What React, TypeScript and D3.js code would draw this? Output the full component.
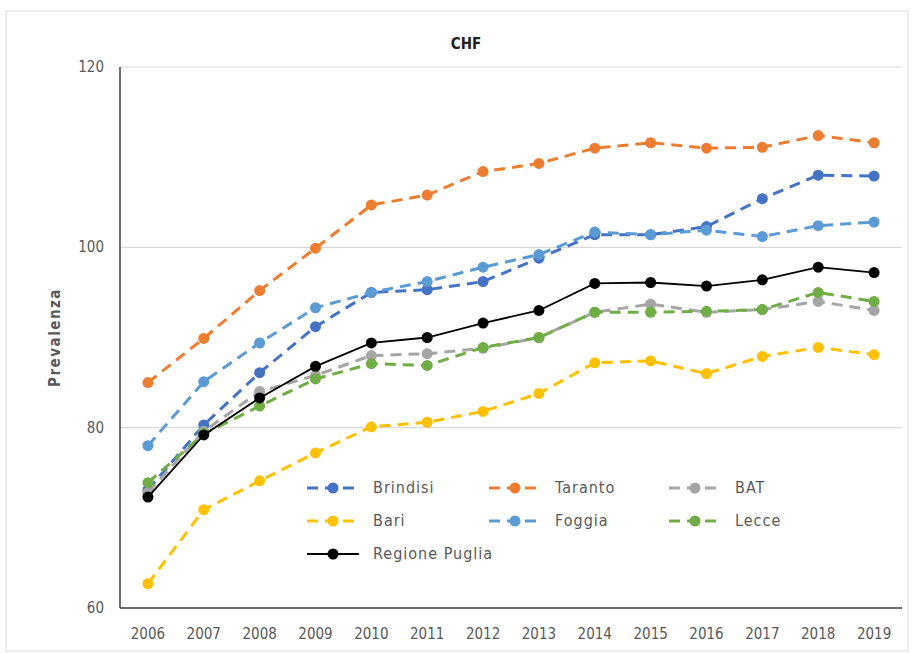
import React from "react";
import * as d3 from "d3";

const years = ["2006","2007","2008","2009","2010","2011","2012","2013","2014","2015","2016","2017","2018","2019"];
const brindisi = [73.1, 80.3, 86.1, 91.2, 95.0, 95.3, 96.2, 98.8, 101.4, 101.4, 102.3, 105.4, 108.0, 107.9];
const taranto = [85.0, 89.9, 95.2, 99.9, 104.7, 105.8, 108.4, 109.3, 111.0, 111.6, 111.0, 111.1, 112.4, 111.6];
const bat = [72.8, 79.6, 84.0, 85.8, 88.0, 88.2, 88.8, 90.0, 92.8, 93.7, 92.8, 93.1, 94.0, 93.0];
const bari = [62.7, 70.9, 74.1, 77.2, 80.1, 80.6, 81.8, 83.8, 87.2, 87.4, 86.0, 87.9, 88.9, 88.1];
const foggia = [78.0, 85.1, 89.4, 93.3, 95.0, 96.2, 97.8, 99.2, 101.7, 101.4, 101.9, 101.2, 102.4, 102.8];
const lecce = [73.9, 79.3, 82.4, 85.4, 87.1, 86.9, 88.9, 90.0, 92.8, 92.8, 92.9, 93.1, 95.0, 94.0];
const puglia = [72.3, 79.2, 83.3, 86.8, 89.4, 90.0, 91.6, 93.0, 96.0, 96.1, 95.7, 96.4, 97.8, 97.2];
const yTicks = [60, 80, 100, 120];

const series = [
  { name: "Brindisi", values: brindisi, color: "#4472C4", dashed: true },
  { name: "Taranto", values: taranto, color: "#ED7D31", dashed: true },
  { name: "BAT", values: bat, color: "#A5A5A5", dashed: true },
  { name: "Bari", values: bari, color: "#FFC000", dashed: true },
  { name: "Foggia", values: foggia, color: "#5B9BD5", dashed: true },
  { name: "Lecce", values: lecce, color: "#70AD47", dashed: true },
  { name: "Regione Puglia", values: puglia, color: "#000000", dashed: false },
];

const FONT = "'DejaVu Sans Condensed', 'Open Sans', sans-serif";

export default function App() {
  const W = 912, H = 653;
  const left = 120, right = 902, top = 67, bottom = 608;
  const x = d3.scaleBand().domain(years).range([left, right]);
  const y = d3.scaleLinear().domain([60, 120]).range([bottom, top]);
  const cx = (yr: string) => (x(yr) as number) + x.bandwidth() / 2;
  const line = d3.line<number>().x((_, i) => cx(years[i])).y((v) => y(v));

  const legendCols = [373, 555, 735];
  const legendRows = [488, 521, 554];

  return (
    <svg width={W} height={H} style={{ position: "absolute", left: 0, top: 0, background: "#fff" }}>
      <rect x={6} y={11} width={902} height={640} fill="#fff" stroke="#d9d9d9" />
      <text x={466} y={49} textAnchor="middle" fontFamily={FONT} fontWeight="bold" fontSize={15} fill="#222">CHF</text>
      {yTicks.filter((t) => t !== 60).map((t) => (
        <line key={t} x1={left} x2={right} y1={y(t)} y2={y(t)} stroke="#d9d9d9" strokeWidth={1.2} />
      ))}
      <line x1={left} x2={left} y1={top} y2={bottom} stroke="#404040" strokeWidth={1.5} />
      <line x1={left} x2={right} y1={bottom} y2={bottom} stroke="#404040" strokeWidth={1.5} />
      {yTicks.map((t) => (
        <text key={t} x={104} y={y(t) + 5} textAnchor="end" fontFamily={FONT} fontSize={15} fill="#595959">{t}</text>
      ))}
      {years.map((yr) => (
        <text key={yr} x={cx(yr)} y={639} textAnchor="middle" fontFamily={FONT} fontSize={15} fill="#595959">{yr}</text>
      ))}
      <text transform={`translate(60, ${(top + bottom) / 2}) rotate(-90)`} textAnchor="middle" fontFamily={FONT} fontWeight="bold" fontSize={15} fill="#595959" letterSpacing={1.5}>Prevalenza</text>
      {series.map((s) => (
        <g key={s.name}>
          <path d={line(s.values) || ""} fill="none" stroke={s.color} strokeWidth={s.dashed ? 3 : 1.8} strokeDasharray={s.dashed ? "11,7" : undefined} />
          {s.values.map((v, i) => (
            <circle key={i} cx={cx(years[i])} cy={y(v)} r={5.5} fill={s.color} />
          ))}
        </g>
      ))}
      {series.map((s, i) => {
        const tx = legendCols[i % 3];
        const ty = legendRows[Math.floor(i / 3)];
        return (
          <g key={"lg" + s.name}>
            <rect x={tx - 74} y={ty - 13} width={s.name.length * 9.5 + 82} height={26} fill="#fff" />
            <line x1={tx - 66} x2={tx - 14} y1={ty} y2={ty} stroke={s.color} strokeWidth={s.dashed ? 3 : 1.8} strokeDasharray={s.dashed ? "11,7" : undefined} />
            <circle cx={tx - 40} cy={ty} r={5.5} fill={s.color} />
            <text x={tx} y={ty + 5} fontFamily={FONT} fontSize={16} fill="#595959" letterSpacing={1}>{s.name}</text>
          </g>
        );
      })}
    </svg>
  );
}
